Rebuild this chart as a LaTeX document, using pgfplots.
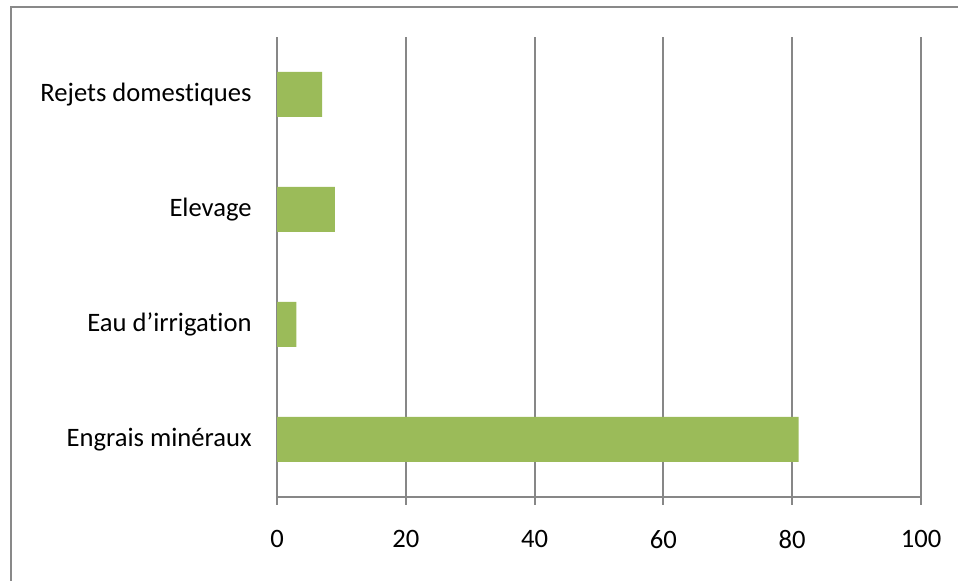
\documentclass[border=0pt]{standalone}
\usepackage{pgfplots}
\pgfplotsset{compat=1.18}
\usepackage{fontspec}
\setmainfont{Carlito}[Ligatures={NoCommon,NoRare}]
\definecolor{barg}{HTML}{9BBB59}
\definecolor{gridg}{HTML}{878787}
\definecolor{frameg}{HTML}{898989}
\begin{document}
\begin{tikzpicture}
\useasboundingbox (0,0) rectangle (479pt,290.5pt);
\draw[color=frameg, line width=1pt] (5.25pt,-2pt) -- (5.25pt,287pt) -- (482pt,287pt);
\begin{axis}[
  at={(138.5pt,42pt)}, anchor=south west,
  scale only axis, width=322pt, height=230pt,
  xmin=0, xmax=100, ymin=-0.5, ymax=3.5,
  xbar, bar width=22.5pt,
  axis x line*=bottom, axis y line*=left,
  axis line style={-, color=gridg, line width=1pt},
  xtick={0,20,40,60,80,100},
  ytick={0,1,2,3},
  yticklabels={Engrais minéraux, Eau d’irrigation, Elevage, Rejets domestiques},
  xmajorgrids, major grid style={color=gridg, line width=1pt},
  xtick align=outside, major tick length=4pt,
  xtick style={color=gridg, line width=1pt},
  ytick style={draw=none},
  tick label style={font=\fontsize{13.3pt}{16pt}\selectfont, text=black},
  /pgf/number format/assume math mode=true,
  yticklabel style={inner sep=0pt, xshift=-8.5pt},
  xticklabel style={inner sep=0pt, yshift=-12.5pt},
  clip=false,
]
\addplot[fill=barg, draw=none] coordinates {(81,0) (3,1) (9,2) (7,3)};
\end{axis}
\end{tikzpicture}
\end{document}
